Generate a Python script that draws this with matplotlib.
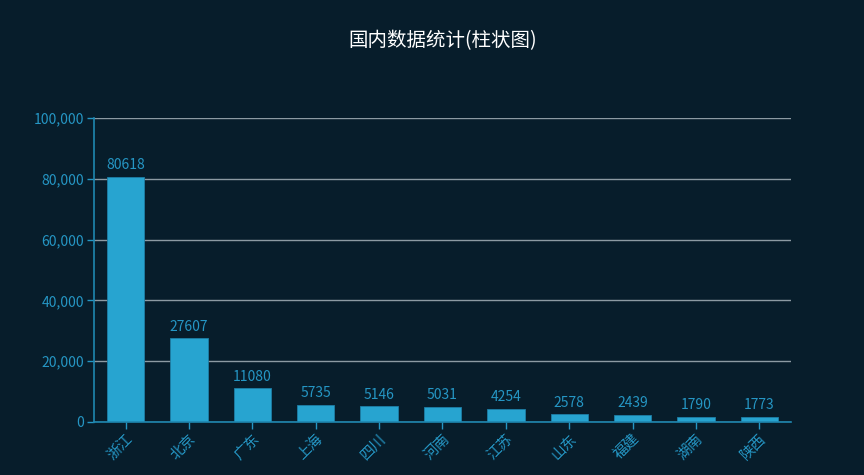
import numpy as np
import matplotlib.pyplot as plt
from matplotlib.ticker import FuncFormatter

plt.rcParams['font.family'] = ['Noto Sans CJK SC', 'DejaVu Sans']

provinces = ['浙江', '北京', '广东', '上海', '四川', '河南', '江苏', '山东', '福建', '湖南', '陕西']
counts = [80618, 27607, 11080, 5735, 5146, 5031, 4254, 2578, 2439, 1790, 1773]
y_ticks = [0, 20000, 40000, 60000, 80000, 100000]

bg = '#071d2b'
blue = '#27a4d0'
txt = '#2596c4'

fig = plt.figure(figsize=(8.64, 4.75), dpi=100, facecolor=bg)
ax = fig.add_axes([0.1088, 0.1116, 0.8067, 0.64], facecolor=bg)

x = np.arange(len(provinces))
ax.bar(x, counts, width=0.59, color=blue, edgecolor='#1d7fa6', linewidth=0.6, zorder=3)
for xi, v in zip(x, counts):
    ax.text(xi, v + 1500, str(v), ha='center', va='bottom', color=txt, fontsize=10, zorder=4)

ax.set_xlim(-0.5, len(provinces) - 0.5)
ax.set_ylim(0, 100000)
ax.set_yticks(y_ticks)
ax.yaxis.set_major_formatter(FuncFormatter(lambda v, p: f'{int(v):,}'))
ax.grid(axis='y', color='#8c9aa3', linewidth=1, zorder=0)

ax.set_xticks(x)
ax.set_xticklabels(provinces, rotation=45, ha='right', rotation_mode='anchor')
ax.tick_params(axis='x', colors=txt, labelsize=10.5, length=5, width=1, direction='out', pad=2)
ax.tick_params(axis='y', colors=txt, labelsize=10, length=5, width=1, pad=2)

for s in ['top', 'right']:
    ax.spines[s].set_visible(False)
for s in ['left', 'bottom']:
    ax.spines[s].set_color('#1f87b0')
    ax.spines[s].set_linewidth(1.2)
    ax.spines[s].set_zorder(5)

fig.text(0.512, 0.915, '国内数据统计(柱状图)', color='white', fontsize=14, ha='center', va='center')

fig.savefig('out.png', dpi=100, facecolor=bg)
plt.close(fig)
